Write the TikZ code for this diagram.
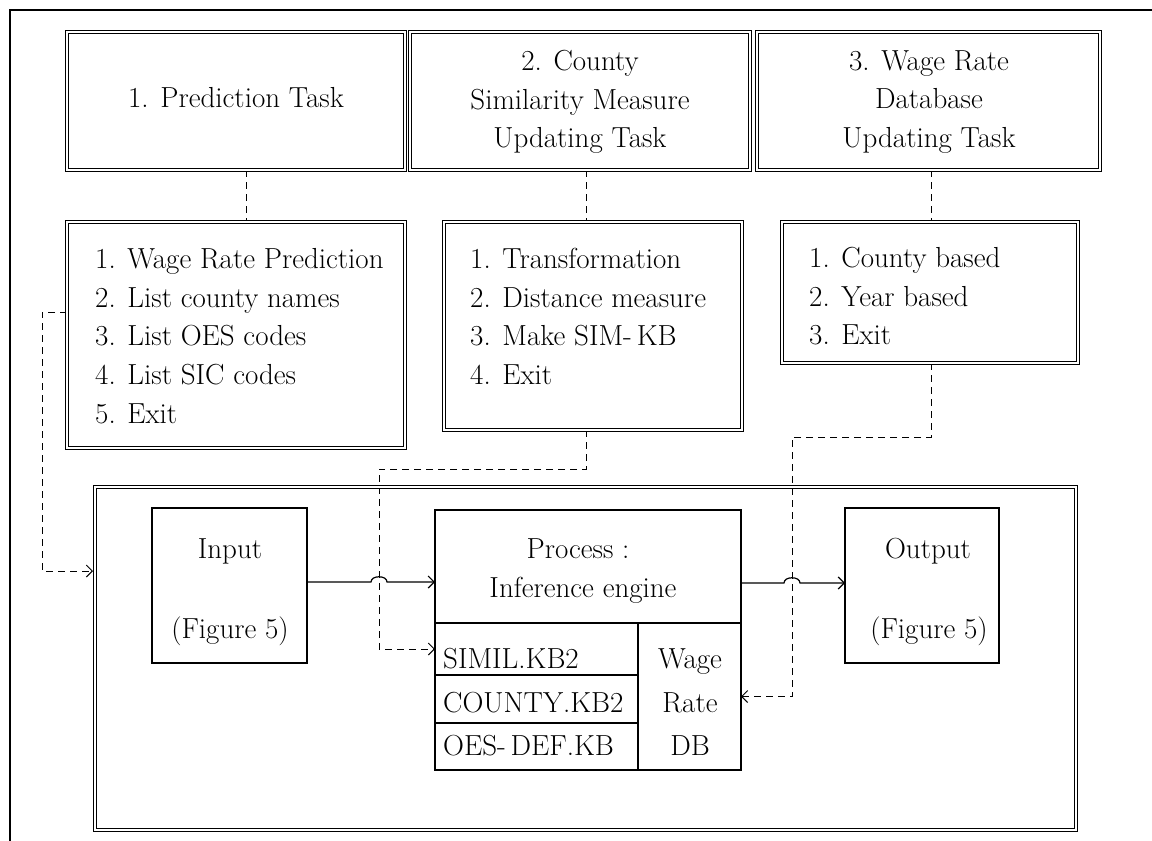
\documentclass[tikz,border=0pt]{standalone}
\usepackage{fontspec}
\usetikzlibrary{arrows.meta,calc,backgrounds}
\begin{document}
\begin{tikzpicture}[x=1pt,y=-1pt,
 >={Straight Barb[length=6pt,width=12pt]},
 dbl/.style={draw, double, double distance=1.8pt, line width=1.1pt, inner sep=0pt, outer sep=0pt, anchor=north west},
 sbox/.style={draw, line width=1.3pt, inner sep=0pt, outer sep=0pt, anchor=north west},
 txt/.style={font=\fontsize{29pt}{38.7pt}\selectfont, inner sep=0pt},
 dcon/.style={line width=1pt, dash pattern=on 7pt off 5pt},
 scon/.style={line width=1.2pt},
]
\useasboundingbox (0,0) rectangle (1152,841);

% outer frame
\draw[line width=2.5pt] (10,845) -- (10,10) -- (1156,10);

% task boxes
\node[dbl, minimum width=338pt, minimum height=138pt] (t1) at (67,32) {};
\node[dbl, minimum width=340pt, minimum height=138pt] (t2) at (410,32) {};
\node[dbl, minimum width=343pt, minimum height=138pt] (t3) at (757,32) {};
\node[txt] (t1x) at (236,98) {1. Prediction Task};
\node[txt, align=center] (t2x) at (580,102) {2. County\\Similarity Measure\\Updating Task};
\node[txt, align=center] (t3x) at (929,102) {3. Wage Rate\\Database\\Updating Task};

% menu boxes
\node[dbl, minimum width=338pt, minimum height=226pt] (m1) at (67,222) {};
\node[dbl, minimum width=298pt, minimum height=208pt] (m2) at (444,222) {};
\node[dbl, minimum width=296pt, minimum height=141pt] (m3) at (782,222) {};
\node[txt, align=left, anchor=north west] (m1x) at (95,248) {1. Wage Rate Prediction\\2. List county names\\3. List OES codes\\4. List SIC codes\\5. Exit};
\node[txt, align=left, anchor=north west] (m2x) at (470,248) {1. Transformation\\2. Distance measure\\3. Make SIM-\,KB\\4. Exit};
\node[txt, align=left, anchor=north west] (m3x) at (809,247) {1. County based\\2. Year based\\3. Exit};

% bottom area
\node[dbl, minimum width=981pt, minimum height=343pt] (bot) at (95,487) {};
\node[sbox, minimum width=155pt, minimum height=155pt] (in) at (152,508) {};
\node[txt, anchor=base] (inA) at (230,558) {Input};
\node[txt, anchor=base] (inB) at (230,638) {(Figure 5)};
\node[sbox, minimum width=306pt, minimum height=113pt] (proc) at (435,510) {};
\node[txt, anchor=base] (pA) at (578,558) {Process :};
\node[txt, anchor=base] (pB) at (583,597) {Inference engine};
\node[sbox, minimum width=203pt, minimum height=52pt] (c1) at (435,623) {};
\node[sbox, minimum width=203pt, minimum height=48pt] (c2) at (435,675) {};
\node[sbox, minimum width=203pt, minimum height=47pt] (c3) at (435,723) {};
\node[sbox, minimum width=103pt, minimum height=147pt] (wr) at (638,623) {};
\node[txt, anchor=base west] (c1x) at (443,668) {SIMIL.KB2};
\node[txt, anchor=base west] (c2x) at (443,712) {COUNTY.KB2};
\node[txt, anchor=base west] (c3x) at (443,755) {OES-\,DEF.KB};
\node[txt, anchor=base] (wr1) at (690,668) {Wage};
\node[txt, anchor=base] (wr2) at (690,712) {Rate};
\node[txt, anchor=base] (wr3) at (690,755) {DB};
\node[sbox, minimum width=154pt, minimum height=155pt] (out) at (845,508) {};
\node[txt, anchor=base] (oA) at (928,558) {Output};
\node[txt, anchor=base] (oB) at (929,638) {(Figure 5)};

% helper coordinates
\coordinate (v1) at (246,0);
\coordinate (v2) at (586,0);
\coordinate (v3) at (931,0);
\coordinate (k1) at (42,312);
\coordinate (k2) at (42,571);
\coordinate (k3) at (586,469);
\coordinate (k4) at (379,469);
\coordinate (k6) at (931,437);
\coordinate (k7) at (792,437);
\coordinate (h1) at (379,582);
\coordinate (h2) at (792,583);

\begin{scope}[on background layer]
\draw[dcon] (t1.south -| v1) -- (m1.north -| v1);
\draw[dcon] (t2.south -| v2) -- (m2.north -| v2);
\draw[dcon] (t3.south -| v3) -- (m3.north -| v3);
\draw[dcon,->,shorten >=2pt] (m1.west |- k1) -- (k1) -- (k2) -- (bot.west |- k2);
\draw[dcon,->] (m2.south -| v2) -- (k3) -- (k4) -- (k4 |- c1.west) -- (c1.west);
\draw[dcon,->] (m3.south -| v3) -- (k6) -- (k7) -- (k7 |- wr.east) -- (wr.east);
\end{scope}

\draw[scon,->] (in.east |- h1) -- ($(h1)+(-8,0)$) .. controls ($(h1)+(-8,-7)$) and ($(h1)+(8,-7)$) .. ($(h1)+(8,0)$) -- (proc.west |- h1);
\draw[scon,->] (proc.east |- h2) -- ($(h2)+(-8,0)$) .. controls ($(h2)+(-8,-7)$) and ($(h2)+(8,-7)$) .. ($(h2)+(8,0)$) -- (out.west |- h2);
\end{tikzpicture}
\end{document}
